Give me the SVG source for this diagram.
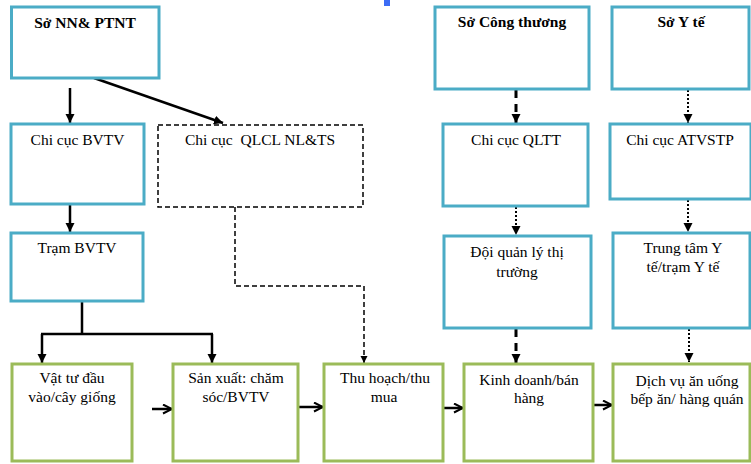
<svg xmlns="http://www.w3.org/2000/svg" width="751" height="464" viewBox="0 0 751 464" font-family="'Liberation Serif', 'Times New Roman', serif">
<style>
.b{fill:#fff;stroke:#4bacc6;stroke-width:3}
.g{fill:#fff;stroke:#9bbb59;stroke-width:3}
.d{fill:#fff;stroke:#000;stroke-width:1.5;stroke-dasharray:5,3}
text{font-family:"Liberation Serif","Times New Roman",serif;font-size:15.5px;fill:#000;text-anchor:middle}
.t{font-weight:bold}
.c{fill:none;stroke:#000}
.s{stroke-width:2.5}
.dl{stroke-width:3;stroke-dasharray:8,6}
.dt{stroke-width:2;stroke-dasharray:2,2}
.ds{stroke-width:1.5;stroke-dasharray:5,3}
</style>
<defs>
<marker id="tri" markerUnits="userSpaceOnUse" markerWidth="10" markerHeight="10" refX="9" refY="4.5" orient="auto"><path d="M0,0 L9,4.5 L0,9 z" fill="#000"/></marker>
<marker id="tri2" markerUnits="userSpaceOnUse" markerWidth="8" markerHeight="8" refX="7" refY="3.5" orient="auto"><path d="M0,0 L7,3.5 L0,7 z" fill="#000"/></marker>
<marker id="open" markerUnits="userSpaceOnUse" markerWidth="12" markerHeight="12" refX="10" refY="5.5" orient="auto"><path d="M1,1 L10,5.5 L1,10" fill="none" stroke="#000" stroke-width="2"/></marker>
</defs>
<rect x="384" y="0" width="6" height="6" fill="#3c6cf5"/>
<g id="connectors">
<path class="c s" d="M70,88 L70,123" marker-end="url(#tri)"/>
<path class="c s" d="M94,78 L223,123" marker-end="url(#tri)"/>
<path class="c s" d="M70,204 L70,232" marker-end="url(#tri)"/>
<path class="c s" d="M82,301 L82,334 M41,334 L213,334"/>
<path class="c s" d="M42,334 L42,363" marker-end="url(#tri)"/>
<path class="c s" d="M212,334 L212,363" marker-end="url(#tri)"/>
<path class="c ds" d="M235,207 L235,286 L364,286 L364,363" marker-end="url(#tri2)"/>
<path class="c dl" d="M516,90 L516,123" marker-end="url(#tri)"/>
<path class="c dt" d="M688,90 L688,123" marker-end="url(#tri)"/>
<path class="c dt" d="M516,207 L516,235" marker-end="url(#tri)"/>
<path class="c dt" d="M688,200 L688,232" marker-end="url(#tri)"/>
<path class="c dl" d="M516,329 L516,363" marker-end="url(#tri)"/>
<path class="c dt" d="M689,329 L689,362" marker-end="url(#tri)"/>
<path class="c s" d="M152,409 L172,409" marker-end="url(#open)"/>
<path class="c s" d="M298,407 L323,407" marker-end="url(#open)"/>
<path class="c s" d="M443,408 L463,408" marker-end="url(#open)"/>
<path class="c s" d="M593,405 L612,405" marker-end="url(#open)"/>
</g>
<g id="so-nn"><rect class="b" x="11.5" y="7" width="147.5" height="71"/><text class="t" x="85" y="28">Sở NN&amp; PTNT</text></g>
<g id="so-ct"><rect class="b" x="435" y="7" width="154" height="82"/><text class="t" x="512" y="27">Sở Công thương</text></g>
<g id="so-yt"><rect class="b" x="612" y="7" width="137" height="82"/><text class="t" x="681" y="27">Sở Y tế</text></g>
<g id="cc-bvtv"><rect class="b" x="11" y="124" width="133" height="80"/><text x="77.5" y="145">Chi cục BVTV</text></g>
<g id="cc-qlcl"><rect class="d" x="158" y="125" width="205" height="82"/><text x="260" y="145" xml:space="preserve">Chi cục  QLCL NL&amp;TS</text></g>
<g id="cc-qltt"><rect class="b" x="443" y="124" width="145" height="82"/><text x="516" y="145">Chi cục QLTT</text></g>
<g id="cc-atvstp"><rect class="b" x="610" y="124" width="141" height="75"/><text x="680" y="145">Chi cục ATVSTP</text></g>
<g id="tram-bvtv"><rect class="b" x="11" y="233" width="132" height="68"/><text x="77" y="253">Trạm BVTV</text></g>
<g id="doi-qltt"><rect class="b" x="444" y="236" width="147" height="92"/><text x="517" y="257">Đội quản lý thị</text><text x="517" y="277">trường</text></g>
<g id="trung-tam"><rect class="b" x="613" y="233" width="137" height="95"/><text x="683" y="253">Trung tâm Y</text><text x="683" y="272">tế/trạm Y tế</text></g>
<g id="vat-tu"><rect class="g" x="12" y="364" width="120" height="97"/><text x="72" y="383">Vật tư đầu</text><text x="72" y="402">vào/cây giống</text></g>
<g id="san-xuat"><rect class="g" x="173" y="364" width="125" height="97"/><text x="236" y="383">Sản xuất: chăm</text><text x="236" y="402">sóc/BVTV</text></g>
<g id="thu-hoach"><rect class="g" x="324" y="364" width="119" height="97"/><text x="385" y="383">Thu hoạch/thu</text><text x="384" y="402">mua</text></g>
<g id="kinh-doanh"><rect class="g" x="464" y="364" width="129" height="97"/><text x="529" y="385">Kinh doanh/bán</text><text x="529" y="403">hàng</text></g>
<g id="dich-vu"><rect class="g" x="613" y="364" width="137" height="97"/><text x="687" y="386">Dịch vụ ăn uống</text><text x="687" y="404">bếp ăn/ hàng quán</text></g>
</svg>
